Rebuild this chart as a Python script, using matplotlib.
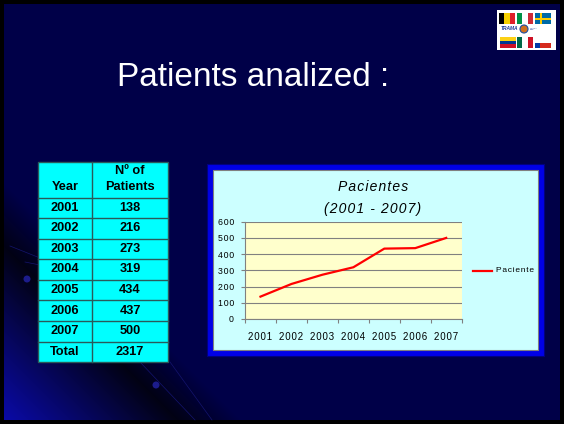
import matplotlib as mpl
mpl.use('Agg')
import matplotlib.pyplot as plt
from matplotlib.patches import Rectangle, Circle
import numpy as np

plt.rcParams['font.family'] = ['Liberation Sans', 'DejaVu Sans']

years = ['2001', '2002', '2003', '2004', '2005', '2006', '2007']
patients = [138, 216, 273, 319, 434, 437, 500]
total_label = 'Total'
total_value = 2317
slide_title = 'Patients analized :'
chart_title = ['Pacientes', '(2001 - 2007)']
series_name = 'Paciente'
y_ticks = [0, 100, 200, 300, 400, 500, 600]

HS = '\u200a'   # hair space, for the wide letter spacing of the chart text
def spaced(s, sep=HS):
    return sep.join(s)

W, H = 564, 424
fig = plt.figure(figsize=(W / 100, H / 100), dpi=100, facecolor='black')

# background in pixel coords
bg = fig.add_axes([0, 0, 1, 1])
bg.set_xlim(0, W)
bg.set_ylim(H, 0)
bg.axis('off')

# navy slide, with a diagonal shadow and a blue glow in the lower left corner
yy, xx = np.mgrid[0:H, 0:W].astype(float)
d = (yy - xx - 243) / np.sqrt(2)
navy = np.array([0, 0, 72]) / 255
dark = np.array([2, 2, 20]) / 255
blue = np.array([10, 10, 165]) / 255
img = np.tile(navy, (H, W, 1))
below = d > 0
t = np.clip(d / 120, 0, 1)[..., None]
img = np.where(below[..., None], dark + (blue - dark) * t, img)
above = (d <= 0) & (d > -45)
s = np.clip(-d / 45, 0, 1)[..., None]
img = np.where(above[..., None], dark + (navy - dark) * s, img)
img[:4, :] = 0
img[420:, :] = 0
img[:, :4] = 0
img[:, 560:] = 0
bg.imshow(img, extent=[0, W, H, 0], aspect='auto', zorder=0, interpolation='bilinear')

for (x0, y0, x1, y1) in [(10, 246, 45, 260), (25, 262, 90, 275), (140, 362, 195, 420), (170, 362, 212, 420)]:
    bg.plot([x0, x1], [y0, y1], color='#14146e', lw=0.5, zorder=1)
bg.add_patch(Circle((27, 279), 3.5, fc='#1c1c8c', ec='none', zorder=1))
bg.add_patch(Circle((156, 385), 3.5, fc='#1c1c8c', ec='none', zorder=1))

# slide title
bg.text(253, 78, slide_title, color='white', fontsize=24, ha='center', va='center', zorder=3)

# logo
bg.add_patch(Rectangle((497, 10), 59, 40, fc='white', ec='none', zorder=3))
flags = [
    (499, 13, ['#000000', '#f5d000', '#e0202a'], 'v'),
    (517, 13, ['#009246', '#ffffff', '#ce2b37'], 'v'),
    (535, 13, None, 'se'),
    (500, 37, ['#fcd116', '#003893', '#ce1126'], 'h'),
    (517, 37, ['#006847', '#ffffff', '#ce1126'], 'v'),
    (535, 37, ['#ffffff', '#d52b1e'], 'h'),
]
fw, fh = 16, 11
for x0, y0, cols, kind in flags:
    if kind == 'v':
        for i, c in enumerate(cols):
            bg.add_patch(Rectangle((x0 + i * fw / 3, y0), fw / 3, fh, fc=c, ec='none', zorder=4))
    elif kind == 'h':
        for i, c in enumerate(cols):
            bg.add_patch(Rectangle((x0, y0 + i * fh / len(cols)), fw, fh / len(cols), fc=c, ec='none', zorder=4))
    else:
        bg.add_patch(Rectangle((x0, y0), fw, fh, fc='#006aa7', ec='none', zorder=4))
        bg.add_patch(Rectangle((x0 + 5, y0), 2, fh, fc='#fecc00', ec='none', zorder=5))
        bg.add_patch(Rectangle((x0, y0 + 4.5), fw, 2, fc='#fecc00', ec='none', zorder=5))
bg.add_patch(Rectangle((535, 42.5), 5, 5.5, fc='#0039a6', ec='none', zorder=5))
bg.text(509, 29, 'TRAMA', color='#1a3a9a', fontsize=3.5, fontweight='bold', style='italic',
        ha='center', va='center', zorder=5)
bg.add_patch(Circle((524, 29), 4, fc='#d07020', ec='#2050a0', lw=0.8, zorder=5))
bg.text(530, 29, 'TRAMA\nMed', color='#1a3a9a', fontsize=1.6, ha='left', va='center', zorder=5)

# table
tx = [38, 92, 168]
row_y = [162, 197.5, 218, 238.5, 259, 279.5, 300, 321, 341.5, 362]
rows = list(zip(years, [str(p) for p in patients])) + [(total_label, str(total_value))]
bg.add_patch(Rectangle((tx[0], row_y[0]), tx[2] - tx[0], row_y[-1] - row_y[0],
                       fc='#00ffff', ec='#2a5a5a', lw=1, zorder=3))
for y in row_y[1:-1]:
    bg.plot([tx[0], tx[2]], [y, y], color='#2a5a5a', lw=1, zorder=4)
bg.plot([tx[1], tx[1]], [row_y[0], row_y[-1]], color='#2a5a5a', lw=1, zorder=4)
c0 = (tx[0] + tx[1]) / 2
c1 = (tx[1] + tx[2]) / 2
fs = 9.2
bg.text(c0, 187, 'Year', fontsize=fs, fontweight='bold', ha='center', va='center', zorder=5)
bg.text(c1, 170.5, 'Nº of', fontsize=fs, fontweight='bold', ha='center', va='center', zorder=5)
bg.text(c1, 187, 'Patients', fontsize=fs, fontweight='bold', ha='center', va='center', zorder=5)
for i, (a, b) in enumerate(rows):
    yc = (row_y[i + 1] + row_y[i + 2]) / 2
    bg.text(c0, yc, a, fontsize=fs, fontweight='bold', ha='center', va='center', zorder=5)
    bg.text(c1, yc, b, fontsize=fs, fontweight='bold', ha='center', va='center', zorder=5)

# chart frame
bg.add_patch(Rectangle((207, 164), 337, 192, fc='#0000e6', ec='#000080', lw=0.8, zorder=3))
bg.add_patch(Rectangle((213, 170), 325, 180, fc='#ccffff', ec='#808080', lw=0.8, zorder=4))
bg.text(373, 187, spaced(chart_title[0]), fontsize=10, style='italic',
        ha='center', va='center', zorder=5)
bg.text(373, 209, spaced(chart_title[1]), fontsize=10, style='italic',
        ha='center', va='center', zorder=5)

# legend
bg.plot([473, 492], [271, 271], color='#ff0000', lw=1.6, zorder=5)
bg.text(496, 271, spaced(series_name), fontsize=6, ha='left', va='center', zorder=5)

# line chart
ax = fig.add_axes([245 / W, (H - 319) / H, 216.7 / W, 97.3 / H], zorder=5)
ax.set_facecolor('#ffffcc')
x = np.arange(len(years))
ax.plot(x, patients, color='#ff0000', lw=1.6, zorder=3)
ax.set_xlim(-0.5, len(years) - 0.5)
ax.set_ylim(0, 600)
ax.set_yticks(y_ticks)
ax.set_yticklabels([spaced(str(v)) for v in y_ticks], fontsize=6.3)
ax.set_xticks(x)
ax.set_xticklabels([spaced(y) for y in years], fontsize=7)
ax.set_xticks(np.arange(len(years) + 1) - 0.5, minor=True)
ax.tick_params(axis='x', which='major', length=0, pad=9)
ax.tick_params(axis='x', which='minor', length=3, color='#808080', width=0.8)
ax.tick_params(axis='y', length=3, color='#808080', width=0.8, pad=5)
ax.grid(axis='y', color='#808080', lw=0.8, zorder=1)
ax.set_axisbelow(True)
for sp in ['top', 'right']:
    ax.spines[sp].set_visible(False)
for sp in ['left', 'bottom']:
    ax.spines[sp].set_color('#808080')
    ax.spines[sp].set_linewidth(0.8)

fig.savefig('out.png', dpi=100, facecolor='black')
